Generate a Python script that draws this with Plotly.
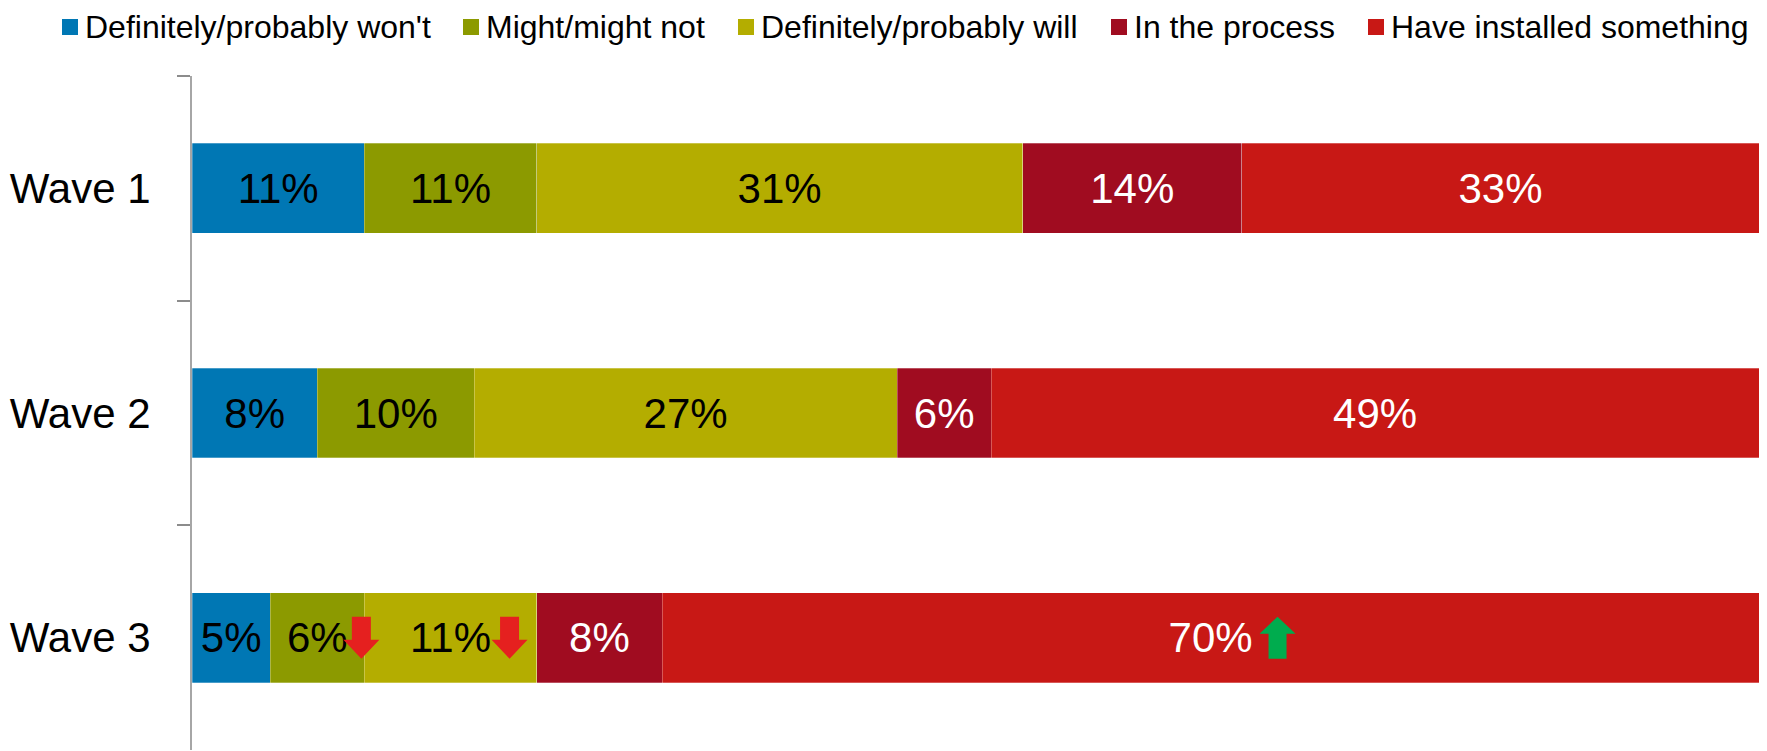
import plotly.graph_objects as go

# ---- data ----
waves = ["Wave 1", "Wave 2", "Wave 3"]
series_names = ["Definitely/probably won't", "Might/might not",
                "Definitely/probably will", "In the process",
                "Have installed something"]
won_t = [11, 8, 5]
might = [11, 10, 6]
will = [31, 27, 11]
in_process = [14, 6, 8]
installed = [33, 49, 70]
series_values = [won_t, might, will, in_process, installed]

# significant changes (wave, series index, direction)
changes_wave = ["Wave 3", "Wave 3", "Wave 3"]
changes_series = [1, 2, 4]
changes_dir = ["down", "down", "up"]

# ---- style ----
colors = ["#0077B4", "#8C9A00", "#B4AD00", "#A00C20", "#C81815"]
text_colors = ["black", "black", "black", "white", "white"]
FONT = "Arial, 'Liberation Sans', sans-serif"
W, H = 1767, 751
ML, MR, MT, MB = 192, 8, 76, 1
PW, PH = W - ML - MR, H - MT - MB


def px_x(p):
    return (p - ML) / PW


def px_y(p):
    return 1 - (p - MT) / PH


fig = go.Figure()
for name, vals, col, tcol in zip(series_names, series_values, colors, text_colors):
    fig.add_trace(go.Bar(
        y=waves, x=vals, name=name, orientation="h",
        marker=dict(color=col, line=dict(width=0.8, color="rgba(255,255,255,0.35)")),
        texttemplate="%{x}%", textposition="inside", insidetextanchor="middle",
        textangle=0, constraintext="none",
        insidetextfont=dict(family=FONT, size=42, color=tcol),
        showlegend=False,
    ))

# arrows for significant changes, anchored to the segment centres
arrow_offset = {1: 44, 2: 59, 4: 67}
down_path = "M{a},21 L{b},21 L{b},-2 L{c},-2 L{d},-21 L{e},-2 L{a},-2 Z"
up_path = "M{d},21 L{c},4 L{b},4 L{b},-21 L{a},-21 L{a},4 L{e},4 Z"
for w, si, direction in zip(changes_wave, changes_series, changes_dir):
    wi = waves.index(w)
    start = sum(series_values[k][wi] for k in range(si))
    centre = start + series_values[si][wi] / 2
    o = arrow_offset[si]
    if direction == "down":
        path = down_path.format(a=o - 9.5, b=o + 9.5, c=o + 18, d=o, e=o - 18)
        col = "#E5201F"
    else:
        path = up_path.format(a=o - 9, b=o + 9, c=o + 18, d=o, e=o - 18)
        col = "#00AC4E"
    fig.add_shape(type="path", xref="x", yref="y",
                  xsizemode="pixel", ysizemode="pixel",
                  xanchor=centre, yanchor=w, path=path,
                  fillcolor=col, line=dict(width=0), layer="above")

# legend drawn as squares + text along the top
legend_left = [62, 463, 738, 1111, 1368]
SQ = 16
LEG_Y = 27
for name, col, lx in zip(series_names, colors, legend_left):
    fig.add_shape(type="rect", xref="paper", yref="paper",
                  x0=px_x(lx), x1=px_x(lx + SQ),
                  y0=px_y(LEG_Y + SQ / 2), y1=px_y(LEG_Y - SQ / 2),
                  fillcolor=col, line=dict(width=0))
    fig.add_annotation(xref="paper", yref="paper", x=px_x(lx + SQ + 5),
                       y=px_y(LEG_Y), xanchor="left", yanchor="middle",
                       text=name, showarrow=False,
                       font=dict(family=FONT, size=32, color="black"))

fig.update_layout(
    barmode="stack", bargap=0.6,
    width=W, height=H,
    margin=dict(l=ML, r=MR, t=MT, b=MB, pad=0, autoexpand=False),
    plot_bgcolor="white", paper_bgcolor="white",
    font=dict(family=FONT, color="black"),
    showlegend=False,
    xaxis=dict(range=[0, 100], visible=False),
    yaxis=dict(autorange="reversed", showgrid=False, zeroline=False,
               showline=True, linecolor="#A6A6A6", linewidth=2,
               ticks="outside", tickson="boundaries", ticklen=13,
               tickcolor="#8C8C8C", tickwidth=2,
               ticklabelstandoff=31,
               tickfont=dict(family=FONT, size=42, color="black")),
)

fig.write_html("out.html",
               config={"displayModeBar": False},
               post_script="document.body.style.margin='0';"
                           "document.body.style.overflow='hidden';")
